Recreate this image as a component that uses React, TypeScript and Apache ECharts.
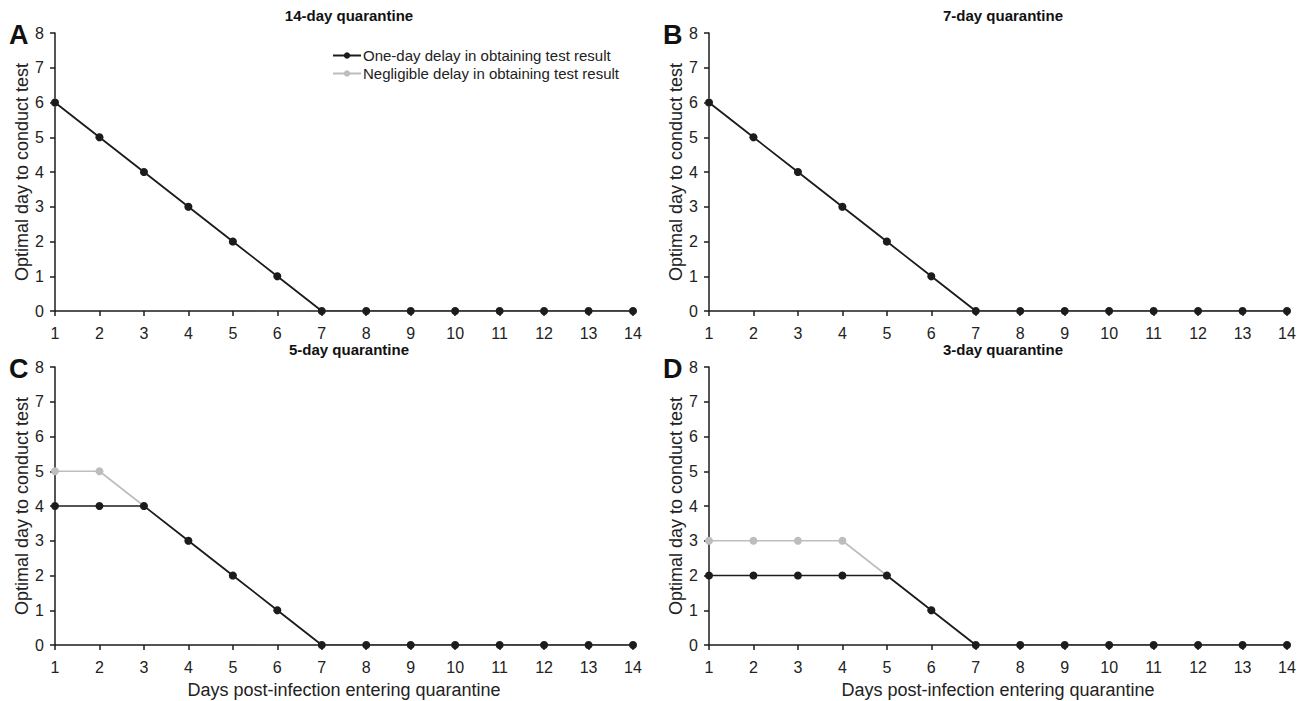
import React, { useEffect, useRef } from "react";
import * as echarts from "echarts";

const days = [1, 2, 3, 4, 5, 6, 7, 8, 9, 10, 11, 12, 13, 14];
const panelTitles = ["14-day quarantine", "7-day quarantine", "5-day quarantine", "3-day quarantine"];
const panelLetters = ["A", "B", "C", "D"];
const seriesNames = ["One-day delay in obtaining test result", "Negligible delay in obtaining test result"];
const oneDayA = [6, 5, 4, 3, 2, 1, 0, 0, 0, 0, 0, 0, 0, 0];
const negligibleA = [6, 5, 4, 3, 2, 1, 0, 0, 0, 0, 0, 0, 0, 0];
const oneDayB = [6, 5, 4, 3, 2, 1, 0, 0, 0, 0, 0, 0, 0, 0];
const negligibleB = [6, 5, 4, 3, 2, 1, 0, 0, 0, 0, 0, 0, 0, 0];
const oneDayC = [4, 4, 4, 3, 2, 1, 0, 0, 0, 0, 0, 0, 0, 0];
const negligibleC = [5, 5, 4, 3, 2, 1, 0, 0, 0, 0, 0, 0, 0, 0];
const oneDayD = [2, 2, 2, 2, 2, 1, 0, 0, 0, 0, 0, 0, 0, 0];
const negligibleD = [3, 3, 3, 3, 2, 1, 0, 0, 0, 0, 0, 0, 0, 0];
const yTicks = [0, 8, 1];
const xAxisName = "Days post-infection entering quarantine";
const yAxisName = "Optimal day to conduct test";

const oneDay = [oneDayA, oneDayB, oneDayC, oneDayD];
const negligible = [negligibleA, negligibleB, negligibleC, negligibleD];

const FONT = "Liberation Sans, Arial, Helvetica, sans-serif";
const DARK = "#1c1c1c";
const GRAY = "#bdbdbd";

export default function App() {
  const ref = useRef<HTMLDivElement>(null);
  useEffect(() => {
    if (!ref.current) return;
    const chart = echarts.init(ref.current, undefined, { renderer: "svg" });
    const lefts = [55, 709, 55, 709];
    const tops = [33, 33, 367, 367];
    const W = 578;
    const H = 278;
    const grids = lefts.map((l, i) => ({ left: l, top: tops[i], width: W, height: H }));
    const axisLine = { show: true, lineStyle: { color: DARK, width: 1.5 } };
    const axisTick = { show: true, length: 5, lineStyle: { color: DARK, width: 1.5 } };
    const xAxes = grids.map((_, i) => ({
      type: "value",
      gridIndex: i,
      min: 1,
      max: 14,
      interval: 1,
      axisLine,
      axisTick,
      splitLine: { show: false },
      axisLabel: { color: "#222", fontSize: 16, fontFamily: FONT, margin: 14 },
      name: i >= 2 ? xAxisName : "",
      nameLocation: "middle",
      nameGap: 36,
      nameTextStyle: { color: "#222", fontSize: 18, fontFamily: FONT },
    }));
    const yAxes = grids.map((_, i) => ({
      type: "value",
      gridIndex: i,
      min: yTicks[0],
      max: yTicks[1],
      interval: yTicks[2],
      axisLine,
      axisTick,
      splitLine: { show: false },
      axisLabel: { color: "#222", fontSize: 16, fontFamily: FONT, margin: 11 },
      name: yAxisName,
      nameLocation: "middle",
      nameGap: 24,
      nameTextStyle: { color: "#222", fontSize: 18, fontFamily: FONT },
    }));
    const series: any[] = [];
    for (let i = 0; i < 4; i++) {
      series.push({
        name: seriesNames[1],
        type: "line",
        xAxisIndex: i,
        yAxisIndex: i,
        data: days.map((d, k) => [d, negligible[i][k]]),
        symbol: "circle",
        symbolSize: 8,
        lineStyle: { color: GRAY, width: 1.6 },
        itemStyle: { color: GRAY },
        z: 2,
      });
      series.push({
        name: seriesNames[0],
        type: "line",
        xAxisIndex: i,
        yAxisIndex: i,
        data: days.map((d, k) => [d, oneDay[i][k]]),
        symbol: "circle",
        symbolSize: 8,
        lineStyle: { color: DARK, width: 1.6 },
        itemStyle: { color: DARK },
        z: 3,
      });
    }
    const titles = panelTitles.map((t, i) => ({
      text: t,
      left: lefts[i] + W / 2,
      top: tops[i] - 30,
      textAlign: "center",
      textStyle: { fontSize: 15, fontWeight: "bold", color: "#111", fontFamily: FONT },
    }));
    const letters = panelLetters.map((t, i) => ({
      type: "text",
      left: lefts[i] - 46,
      top: tops[i] - 12,
      style: { text: t, fontSize: 27, fontWeight: "bold", fill: "#111", fontFamily: FONT },
    }));
    chart.setOption({
      animation: false,
      backgroundColor: "#fff",
      title: titles,
      grid: grids,
      xAxis: xAxes,
      yAxis: yAxes,
      series,
      graphic: letters,
      legend: {
        data: [
          { name: seriesNames[0], itemStyle: { color: DARK }, lineStyle: { color: DARK } },
          { name: seriesNames[1], itemStyle: { color: GRAY }, lineStyle: { color: GRAY } },
        ],
        orient: "vertical",
        left: 327,
        top: 43,
        itemWidth: 28,
        itemHeight: 8,
        itemGap: 3,
        textStyle: { fontSize: 15, color: "#222", fontFamily: FONT, padding: [0, 0, 0, -3] },
      },
    });
    return () => chart.dispose();
  }, []);
  return <div ref={ref} style={{ width: 1307, height: 701, position: "absolute", left: 0, top: 0 }} />;
}
